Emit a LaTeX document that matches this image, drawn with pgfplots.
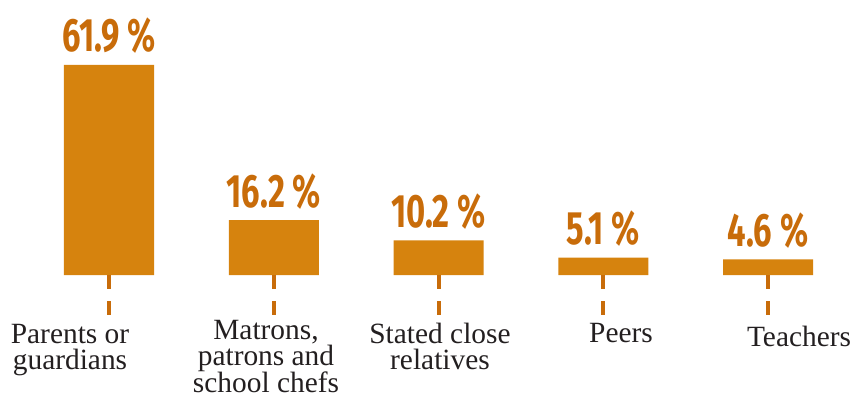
\documentclass[border=0pt]{standalone}
\usepackage{fontspec}
\setmainfont{Liberation Serif}
\newfontfamily\numfont[FakeStretch=0.7]{Fira Sans}
\usepackage{pgfplots}
\pgfplotsset{compat=1.18}
\definecolor{barorange}{RGB}{214,131,14}
\definecolor{labelorange}{RGB}{200,108,10}
\definecolor{labelgrey}{RGB}{35,31,32}
% category labels: anchored on the baseline of their last line
\tikzset{cat/.style={anchor=base, inner sep=0pt, text=labelgrey, align=center,
    font=\fontsize{29.5}{26}\selectfont}}

\begin{document}
\begin{tikzpicture}
\begin{axis}[
  name=ax,
  scale only axis, width=860bp, height=400bp,
  xmin=-0.6616, xmax=4.5584, ymin=-36.84, ymax=81.06,
  hide axis, clip=false,
]
% share of respondents per source
\addplot[ybar, bar width=90bp, bar shift=0pt, fill=barorange, draw=none,
  nodes near coords={\pgfmathprintnumber[fixed,fixed zerofill,precision=1,assume math mode=true]{\pgfplotspointmeta}~\%},
  nodes near coords style={anchor=base, yshift=13bp, inner sep=0pt,
    text=labelorange, font=\numfont\bfseries\fontsize{47}{47}\selectfont},
] coordinates {(0,61.9) (1,16.2) (2,10.2) (3,5.1) (4,4.6)};
% dashed leaders from each bar down to its label
\addplot[ycomb, no marks, draw=labelorange, line width=4bp,
  dash pattern=on 13.5bp off 12.5bp]
  coordinates {(0,-11.8) (1,-11.8) (2,-11.8) (3,-11.8) (4,-12.3)};

\node[cat] at (rel axis cs:0.0814,0.0775) {Parents or\\guardians};
\node[cat] at (rel axis cs:0.3093,0.0175) {Matrons,\\patrons and\\school chefs};
\node[cat] at (rel axis cs:0.5116,0.0775) {Stated close\\relatives};
\node[cat] at (rel axis cs:0.7221,0.1425) {Peers};
\node[cat] at (rel axis cs:0.9291,0.1325) {Teachers};
\end{axis}
% keep the page the full size of the axis area
\path (ax.south west) rectangle (ax.north east);
\end{tikzpicture}
\end{document}
